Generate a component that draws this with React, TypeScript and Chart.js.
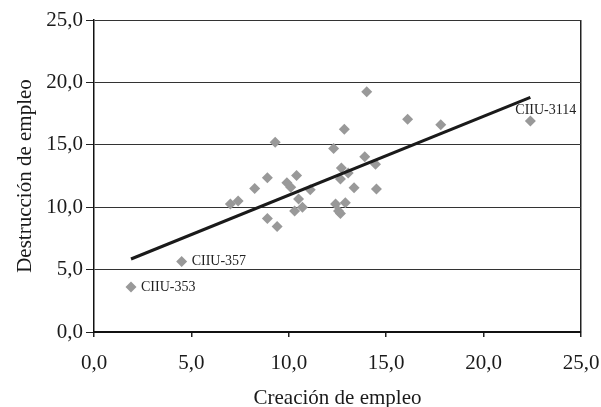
import React, { useEffect, useRef } from 'react';
import { Chart, registerables } from 'chart.js';

Chart.register(...registerables);

// Creación de empleo (x) and Destrucción de empleo (y)
const creacion = [1.9, 4.5, 7.0, 7.4, 8.25, 8.9, 9.3, 8.9, 9.4, 9.9, 10.1, 10.4, 10.5, 10.3, 10.7, 11.1, 12.3, 12.85, 14.0, 12.7, 13.05, 12.65, 13.35, 13.9, 14.45, 14.5, 12.4, 12.9, 12.55, 12.65, 16.1, 17.8, 22.4];
const destruccion = [3.6, 5.65, 10.25, 10.5, 11.5, 12.35, 15.2, 9.1, 8.45, 11.95, 11.6, 12.55, 10.65, 9.7, 10.0, 11.4, 14.7, 16.25, 19.25, 13.15, 12.75, 12.25, 11.55, 14.05, 13.45, 11.45, 10.25, 10.35, 9.7, 9.5, 17.05, 16.6, 16.9];

// Linear trend line end points
const trendX = [1.9, 22.4];
const trendY = [5.85, 18.8];

// Labelled points
const labelIdx = [0, 1, 32];
const labelText = ['CIIU-353', 'CIIU-357', 'CIIU-3114'];

const axisTicks = [0, 5, 10, 15, 20, 25];

const FONT = '"Liberation Serif", "Times New Roman", serif';
const fmt = (v: number) => v.toFixed(1).replace('.', ',');

export default function App() {
  const ref = useRef<HTMLCanvasElement | null>(null);

  useEffect(() => {
    document.body.style.margin = '0';
    const canvas = ref.current;
    if (!canvas) return;

    const labelOffsets: [number, number][] = [[10, 0], [10, 0], [-15, -11]];

    const labelPlugin = {
      id: 'pointLabels',
      afterDatasetsDraw(chart: any) {
        const meta = chart.getDatasetMeta(1);
        const ctx = chart.ctx;
        ctx.save();
        ctx.font = '14px ' + FONT;
        ctx.fillStyle = '#222';
        ctx.textBaseline = 'middle';
        ctx.textAlign = 'left';
        labelIdx.forEach((idx, i) => {
          const el = meta.data[idx];
          if (!el) return;
          ctx.fillText(labelText[i], el.x + labelOffsets[i][0], el.y + labelOffsets[i][1]);
        });
        ctx.restore();
      },
    };

    const chart = new Chart(canvas, {
      type: 'scatter',
      data: {
        datasets: [
          {
            type: 'line',
            data: trendX.map((x, i) => ({ x, y: trendY[i] })),
            borderColor: '#1a1a1a',
            borderWidth: 3,
            pointRadius: 0,
            fill: false,
          } as any,
          {
            data: creacion.map((x, i) => ({ x, y: destruccion[i] })),
            pointStyle: 'rectRot',
            pointRadius: 5.5,
            backgroundColor: '#999999',
            borderColor: '#999999',
            borderWidth: 0,
          },
        ],
      },
      options: {
        animation: false,
        responsive: false,
        layout: { padding: { top: 20, right: 20, left: 0, bottom: 0 } },
        plugins: { legend: { display: false }, tooltip: { enabled: false } },
        scales: {
          x: {
            type: 'linear',
            min: 0,
            max: 25,
            afterBuildTicks: (s: any) => { s.ticks = axisTicks.map((v) => ({ value: v })); },
            afterFit: (s: any) => {
              s.height = 75;
              s.paddingLeft = 0;
              s.paddingRight = 0;
            },
            ticks: {
              callback: (v: any) => fmt(Number(v)),
              font: { family: FONT, size: 21 },
              color: '#1a1a1a',
              padding: 14,
              maxRotation: 0,
            },
            grid: {
              drawOnChartArea: true,
              color: (c: any) => (c.tick && c.tick.value === 25 ? '#222' : 'rgba(0,0,0,0)'),
              tickColor: '#222',
              tickLength: 5,
              lineWidth: 1.5,
            },
            border: { display: true, color: '#111', width: 2 },
            title: {
              display: true,
              text: 'Creación de empleo',
              font: { family: FONT, size: 21 },
              color: '#1a1a1a',
              padding: { top: 0, bottom: -4 },
            },
          },
          y: {
            type: 'linear',
            min: 0,
            max: 25,
            afterBuildTicks: (s: any) => { s.ticks = axisTicks.map((v) => ({ value: v })); },
            afterFit: (s: any) => {
              s.width = 94;
              s.paddingTop = 0;
              s.paddingBottom = 0;
            },
            ticks: {
              callback: (v: any) => fmt(Number(v)),
              font: { family: FONT, size: 21 },
              color: '#1a1a1a',
              padding: 3,
            },
            grid: {
              color: '#333',
              tickColor: '#222',
              tickLength: 8,
              lineWidth: 1,
            },
            border: { display: true, color: '#111', width: 1.5 },
            title: {
              display: true,
              text: 'Destrucción de empleo',
              font: { family: FONT, size: 21 },
              color: '#1a1a1a',
              padding: { top: 13, bottom: 0 },
            },
          },
        },
      },
      plugins: [labelPlugin],
    });

    return () => chart.destroy();
  }, []);

  return <canvas ref={ref} width={601} height={407} />;
}
